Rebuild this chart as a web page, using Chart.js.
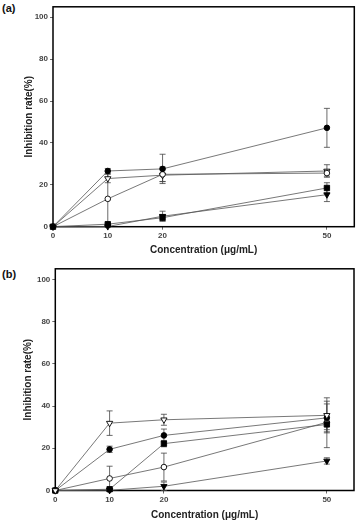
<!DOCTYPE html>
<html>
<head>
<meta charset="utf-8">
<script src="https://cdn.jsdelivr.net/npm/chart.js@4/dist/chart.umd.min.js"></script>
<style>
  html, body { margin: 0; padding: 0; background: #fff; }
  body { width: 359px; height: 524px; position: relative; overflow: hidden; }
  canvas { position: absolute; left: 0; }
  .lbl { position: absolute; left: 2px; font: bold 11px "Liberation Sans", Arial, sans-serif; color: #111; }
</style>
</head>
<body>
<div class="lbl" style="top:2px">(a)</div>
<div class="lbl" style="top:268px">(b)</div>
<canvas id="ca" width="359" height="262" style="top:0"></canvas>
<canvas id="cb" width="359" height="262" style="top:262px"></canvas>
<script>
// ---- data ----
const concentrations = [0, 10, 20, 50];
const xTickValues = [0, 10, 20, 50];
const yTickValues = [0, 20, 40, 60, 80, 100];
const xTitle = 'Concentration (\u03bcg/mL)';
const yTitle = 'Inhibition rate(%)';

// panel (a)
const aFilledCircle = [0, 26.6, 27.6, 47.2];
const aFilledCircleErr = [0, 1.2, 7, 9.3];
const aOpenCircle = [0, 13.3, 25.0, 25.6];
const aOpenCircleErr = [0, 13, 3.5, 1.5];
const aOpenTriangle = [0, 23.0, 24.6, 26.6];
const aOpenTriangleErr = [0, 2, 3, 3];
const aFilledSquare = [0, 1.2, 4.3, 18.5];
const aFilledSquareErr = [0, 0.5, 1.5, 2.5];
const aFilledTriangle = [0, 0.1, 5.0, 15.3];
const aFilledTriangleErr = [0, 0.5, 2.4, 3.3];

// panel (b)
const bOpenTriangle = [0, 31.9, 33.5, 35.6];
const bOpenTriangleErr = [0, 5.8, 2.6, 8.3];
const bFilledCircle = [0, 19.5, 26.1, 34.4];
const bFilledCircleErr = [0, 1.5, 3, 6.6];
const bFilledSquare = [0, 0.6, 22.2, 31.3];
const bFilledSquareErr = [0, 0.5, 1.5, 11];
const bOpenCircle = [0, 5.7, 11.1, 32.3];
const bOpenCircleErr = [0, 5.8, 6.6, 3.5];
const bFilledTriangle = [0, 0.1, 2.0, 14.0];
const bFilledTriangleErr = [0, 0.5, 2, 1.5];

// ---- styles ----
const FONT = '"Liberation Sans", Arial, sans-serif';
const markers = {
  filledCircle:   { pointStyle: 'circle',   rotation: 0,   pointRadius: 2.8, pointBackgroundColor: '#000' },
  openCircle:     { pointStyle: 'circle',   rotation: 0,   pointRadius: 2.8, pointBackgroundColor: '#fff' },
  openTriangle:   { pointStyle: 'triangle', rotation: 180, pointRadius: 3.6, pointBackgroundColor: '#fff' },
  filledSquare:   { pointStyle: 'rect',     rotation: 0,   pointRadius: 3.8, pointBackgroundColor: '#000' },
  filledTriangle: { pointStyle: 'triangle', rotation: 180, pointRadius: 3.6, pointBackgroundColor: '#000' }
};

function ds(values, errs, kind) {
  const m = markers[kind];
  return {
    data: concentrations.map((c, i) => ({ x: c, y: values[i] })),
    errors: errs,
    borderColor: '#555',
    borderWidth: 0.8,
    pointStyle: m.pointStyle,
    rotation: m.rotation,
    pointRadius: m.pointRadius,
    pointHoverRadius: m.pointRadius,
    pointBackgroundColor: m.pointBackgroundColor,
    pointBorderColor: '#000',
    pointBorderWidth: 0.9,
    tension: 0,
    clip: false
  };
}

const boxAndErrors = {
  id: 'boxAndErrors',
  beforeDatasetsDraw(chart) {
    const ctx = chart.ctx;
    const a = chart.chartArea;
    const xs = chart.scales.x, ys = chart.scales.y;
    ctx.save();
    ctx.strokeStyle = '#000';
    ctx.lineWidth = 1.5;
    ctx.strokeRect(a.left, a.top, a.right - a.left, a.bottom - a.top);
    ctx.strokeStyle = '#444';
    ctx.lineWidth = 0.8;
    chart.data.datasets.forEach(d => {
      d.data.forEach((p, i) => {
        const e = d.errors[i];
        if (!e) return;
        const px = xs.getPixelForValue(p.x);
        const y1 = ys.getPixelForValue(p.y - e);
        const y2 = ys.getPixelForValue(p.y + e);
        ctx.beginPath();
        ctx.moveTo(px, y1); ctx.lineTo(px, y2);
        ctx.moveTo(px - 3, y1); ctx.lineTo(px + 3, y1);
        ctx.moveTo(px - 3, y2); ctx.lineTo(px + 3, y2);
        ctx.stroke();
      });
    });
    ctx.restore();
  }
};

function makePanel(id, datasets, geo) {
  return new Chart(document.getElementById(id), {
    type: 'line',
    data: { datasets },
    plugins: [boxAndErrors],
    options: {
      responsive: false,
      animation: false,
      devicePixelRatio: 1,
      layout: { padding: { top: geo.top, right: geo.right, left: 0, bottom: 0 } },
      plugins: { legend: { display: false }, tooltip: { enabled: false } },
      scales: {
        x: {
          type: 'linear', min: 0, max: 55,
          afterBuildTicks: s => { s.ticks = xTickValues.map(v => ({ value: v })); },
          afterFit: s => { s.height = geo.xHeight; },
          ticks: { font: { family: FONT, size: 8, weight: 'bold' }, color: '#444', padding: 1.5, maxRotation: 0 },
          grid: { drawOnChartArea: false, drawTicks: true, tickLength: 3, color: '#444', lineWidth: 0.8 },
          border: { display: false },
          title: { display: true, text: xTitle, font: { family: FONT, size: 10, weight: 'bold' }, color: '#222',
                   padding: { top: 0, bottom: geo.xTitlePad } }
        },
        y: {
          type: 'linear', min: 0, max: 105,
          afterBuildTicks: s => { s.ticks = yTickValues.map(v => ({ value: v })); },
          afterFit: s => { s.width = geo.yWidth; },
          ticks: { font: { family: FONT, size: 8, weight: 'bold' }, color: '#444', padding: 2 },
          grid: { drawOnChartArea: false, drawTicks: true, tickLength: 3, color: '#444', lineWidth: 0.8 },
          border: { display: false },
          title: { display: true, text: yTitle, font: { family: FONT, size: 10, weight: 'bold' }, color: '#222',
                   padding: { top: geo.yTitlePad, bottom: 0 } }
        }
      }
    }
  });
}

makePanel('ca', [
  ds(aFilledCircle, aFilledCircleErr, 'filledCircle'),
  ds(aOpenCircle, aOpenCircleErr, 'openCircle'),
  ds(aOpenTriangle, aOpenTriangleErr, 'openTriangle'),
  ds(aFilledSquare, aFilledSquareErr, 'filledSquare'),
  ds(aFilledTriangle, aFilledTriangleErr, 'filledTriangle')
], { top: 2.5, right: 4, xHeight: 35.3, yWidth: 53, xTitlePad: 6, yTitlePad: 23 });

makePanel('cb', [
  ds(bOpenTriangle, bOpenTriangleErr, 'openTriangle'),
  ds(bFilledCircle, bFilledCircleErr, 'filledCircle'),
  ds(bFilledSquare, bFilledSquareErr, 'filledSquare'),
  ds(bOpenCircle, bOpenCircleErr, 'openCircle'),
  ds(bFilledTriangle, bFilledTriangleErr, 'filledTriangle')
], { top: 5.3, right: 5, xHeight: 33.5, yWidth: 55.3, xTitlePad: 3, yTitlePad: 22.3 });
</script>
</body>
</html>
